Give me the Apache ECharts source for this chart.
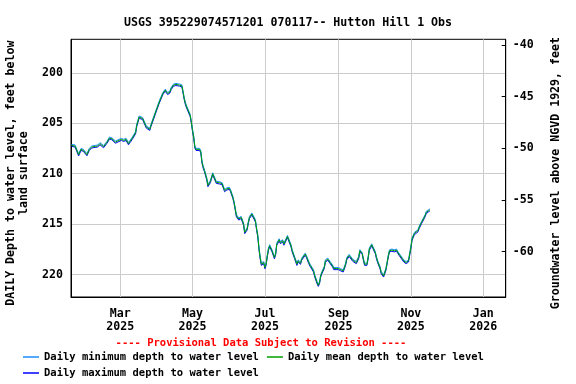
<!DOCTYPE html>
<html>
<head>
<meta charset="utf-8">
<script src="https://cdn.jsdelivr.net/npm/echarts@6/dist/echarts.min.js"></script>
<style>html,body{margin:0;padding:0;background:#fff}#c{width:576px;height:384px}</style>
</head>
<body>
<div id="c"></div>
<script>
const dates = ['2025-01-19','2025-01-22','2025-01-23','2025-01-25','2025-01-27','2025-01-29','2025-01-30','2025-02-01','2025-02-03','2025-02-05',
'2025-02-08','2025-02-10','2025-02-12','2025-02-15','2025-02-18','2025-02-20','2025-02-22','2025-02-25','2025-02-26','2025-02-28',
'2025-03-02','2025-03-04','2025-03-06','2025-03-08','2025-03-09','2025-03-11','2025-03-12','2025-03-14','2025-03-15','2025-03-17',
'2025-03-18','2025-03-20','2025-03-23','2025-03-26','2025-03-27','2025-03-29','2025-04-01','2025-04-03','2025-04-06','2025-04-08',
'2025-04-10','2025-04-12','2025-04-13','2025-04-15','2025-04-16','2025-04-17','2025-04-20','2025-04-22','2025-04-23','2025-04-24',
'2025-04-25','2025-04-26','2025-04-27','2025-04-29','2025-04-30','2025-05-01','2025-05-02','2025-05-03','2025-05-04','2025-05-07',
'2025-05-08','2025-05-09','2025-05-10','2025-05-11','2025-05-13','2025-05-14','2025-05-15','2025-05-16','2025-05-18','2025-05-19',
'2025-05-21','2025-05-22','2025-05-24','2025-05-26','2025-05-27','2025-05-28','2025-05-30','2025-06-01','2025-06-02','2025-06-04',
'2025-06-05','2025-06-06','2025-06-07','2025-06-09','2025-06-11','2025-06-13','2025-06-14','2025-06-16','2025-06-17','2025-06-18',
'2025-06-20','2025-06-21','2025-06-23','2025-06-24','2025-06-25','2025-06-26','2025-06-27','2025-06-28','2025-06-29','2025-06-30',
'2025-07-01','2025-07-02','2025-07-03','2025-07-04','2025-07-05','2025-07-07','2025-07-08','2025-07-09','2025-07-10','2025-07-11',
'2025-07-13','2025-07-14','2025-07-16','2025-07-17','2025-07-19','2025-07-20','2025-07-21','2025-07-23','2025-07-24','2025-07-26',
'2025-07-27','2025-07-28','2025-07-29','2025-07-31','2025-08-01','2025-08-02','2025-08-04','2025-08-05','2025-08-07','2025-08-08',
'2025-08-09','2025-08-11','2025-08-12','2025-08-14','2025-08-15','2025-08-16','2025-08-17','2025-08-18','2025-08-20','2025-08-21',
'2025-08-23','2025-08-24','2025-08-25','2025-08-27','2025-08-28','2025-08-30','2025-08-31','2025-09-01','2025-09-03','2025-09-05',
'2025-09-06','2025-09-07','2025-09-08','2025-09-10','2025-09-11','2025-09-13','2025-09-14','2025-09-16','2025-09-18','2025-09-19',
'2025-09-21','2025-09-22','2025-09-23','2025-09-25','2025-09-26','2025-09-27','2025-09-29','2025-09-30','2025-10-02','2025-10-03',
'2025-10-04','2025-10-06','2025-10-07','2025-10-09','2025-10-10','2025-10-11','2025-10-12','2025-10-13','2025-10-14','2025-10-16',
'2025-10-18','2025-10-20','2025-10-21','2025-10-23','2025-10-24','2025-10-26','2025-10-27','2025-10-28','2025-10-30','2025-10-31',
'2025-11-01','2025-11-02','2025-11-04','2025-11-05','2025-11-07','2025-11-08','2025-11-10','2025-11-11','2025-11-12','2025-11-13',
'2025-11-14','2025-11-16','2025-11-17'];

const meanDepth = [207.19,207.26,207.36,208.12,207.59,207.69,207.86,208.12,207.59,207.36,
207.29,207.26,207.02,207.32,206.87,206.47,206.53,206.87,207.02,206.70,
206.60,206.70,206.60,207.02,207.12,206.53,206.37,205.93,205.20,204.38,
204.28,204.54,205.37,205.60,205.20,204.54,203.54,202.89,202.05,201.72,
202.05,201.89,201.55,201.22,201.39,201.15,201.22,201.29,201.89,202.55,
203.04,203.38,203.54,204.21,204.88,205.70,206.37,207.37,207.59,207.59,
207.86,208.86,209.35,209.68,210.51,211.17,211.17,210.78,210.01,210.18,
210.85,210.91,210.91,211.00,211.17,211.67,211.50,211.44,211.67,212.34,
212.84,213.49,214.16,214.49,214.33,214.99,215.82,215.48,214.83,214.33,
213.99,214.16,214.66,215.48,216.15,217.40,218.31,218.97,219.13,218.81,
219.30,218.97,218.14,217.47,217.14,217.64,217.81,218.31,217.97,216.98,
216.55,216.82,216.65,216.98,216.48,216.22,216.32,217.14,217.64,218.31,
218.47,218.97,218.64,218.87,218.47,218.47,217.97,218.21,218.81,219.06,
219.20,219.63,220.13,220.80,221.06,220.80,220.13,219.80,219.30,218.64,
218.47,218.54,218.81,219.13,219.40,219.40,219.30,219.40,219.53,219.63,
219.46,218.97,218.41,218.10,218.24,218.57,218.64,218.81,218.31,217.64,
217.91,218.47,218.97,218.97,218.31,217.47,217.05,217.31,217.81,218.31,
218.71,219.30,219.80,220.13,219.96,219.46,218.81,218.14,217.64,217.57,
217.64,217.57,217.81,218.14,218.31,218.64,218.74,218.81,218.64,217.97,
217.31,216.48,215.92,215.82,215.65,215.32,214.83,214.66,214.39,214.16,
213.83,213.66,213.59];

const minDepth = [207.10,207.15,207.27,208.02,207.50,207.58,207.77,208.01,207.49,207.26,
207.20,207.16,206.92,207.21,206.78,206.37,206.44,206.76,206.93,206.60,
206.51,206.59,206.50,206.92,207.03,206.42,206.28,205.82,205.08,204.28,
204.18,204.44,205.27,205.50,205.10,204.43,203.43,202.78,201.95,201.62,
201.95,201.79,201.45,201.12,201.29,201.05,201.12,201.19,201.78,202.44,
202.93,203.27,203.44,204.10,204.76,205.58,206.25,207.25,207.49,207.49,
207.75,208.74,209.24,209.57,210.40,211.06,211.07,210.68,209.91,210.08,
210.75,210.81,210.80,210.90,211.07,211.56,211.40,211.34,211.57,212.23,
212.73,213.38,214.05,214.39,214.23,214.88,215.71,215.38,214.73,214.23,
213.89,214.06,214.55,215.37,216.03,217.28,218.19,218.86,219.03,218.71,
219.19,218.87,218.03,217.36,217.04,217.54,217.71,218.20,217.87,216.87,
216.45,216.72,216.55,216.88,216.38,216.12,216.22,217.03,217.53,218.20,
218.37,218.86,218.54,218.77,218.37,218.37,217.87,218.11,218.70,218.96,
219.10,219.52,220.02,220.69,220.96,220.70,220.02,219.70,219.19,218.53,
218.37,218.44,218.71,219.03,219.30,219.29,219.20,219.30,219.43,219.53,
219.36,218.86,218.30,218.00,218.14,218.47,218.54,218.71,218.20,217.53,
217.81,218.36,218.87,218.86,218.20,217.36,216.95,217.21,217.71,218.20,
218.61,219.19,219.69,220.03,219.86,219.35,218.70,218.03,217.54,217.47,
217.54,217.47,217.71,218.04,218.21,218.54,218.64,218.71,218.54,217.86,
217.19,216.36,215.81,215.72,215.55,215.21,214.72,214.56,214.29,214.06,
213.72,213.56,213.49];

const maxDepth = [207.28,207.36,207.47,208.24,207.70,207.78,207.97,208.22,207.70,207.45,
207.39,207.37,207.13,207.43,206.97,206.58,206.63,206.98,207.12,206.81,
206.70,206.80,206.71,207.13,207.22,206.64,206.47,206.05,205.33,204.49,
204.38,204.65,205.48,205.71,205.31,204.66,203.66,203.00,202.16,201.82,
202.16,202.00,201.66,201.33,201.49,201.26,201.32,201.40,202.01,202.67,
203.16,203.49,203.65,204.33,205.00,205.83,206.50,207.50,207.70,207.69,
207.98,208.99,209.47,209.79,210.63,211.29,211.28,210.89,210.12,210.29,
210.96,211.01,211.02,211.11,211.28,211.78,211.61,211.55,211.78,212.46,
212.96,213.61,214.28,214.60,214.44,215.11,215.94,215.59,214.94,214.44,
214.10,214.27,214.78,215.60,216.28,217.53,218.44,219.09,219.24,218.92,
219.42,219.08,218.26,217.59,217.25,217.75,217.92,218.43,218.08,217.10,
216.66,216.93,216.76,217.09,216.59,216.33,216.43,217.26,217.76,218.43,
218.58,219.09,218.75,218.98,218.58,218.57,218.08,218.32,218.93,219.17,
219.31,219.75,220.25,220.92,221.17,220.91,220.25,219.91,219.42,218.76,
218.58,218.65,218.92,219.24,219.51,219.51,219.41,219.51,219.64,219.74,
219.57,219.09,218.53,218.21,218.35,218.68,218.75,218.92,218.43,217.76,
218.02,218.59,219.08,219.08,218.43,217.59,217.16,217.42,217.92,218.43,
218.82,219.42,219.92,220.24,220.07,219.58,218.93,218.26,217.75,217.68,
217.75,217.68,217.92,218.25,218.42,218.75,218.85,218.92,218.75,218.09,
217.44,216.61,216.04,215.93,215.76,215.44,214.95,214.77,214.50,214.27,
213.95,213.77,213.70];

const leftTicks = [200, 205, 210, 215, 220];
const rightTicks = [-60, -55, -50, -45, -40];
const xTickDates = ['2025-03-01','2025-05-01','2025-07-01','2025-09-01','2025-11-01','2026-01-01'];
const monthNames = ['Jan','Feb','Mar','Apr','May','Jun','Jul','Aug','Sep','Oct','Nov','Dec'];

const titleText = 'USGS 395229074571201 070117-- Hutton Hill 1 Obs';
const leftName = 'DAILY Depth to water level, feet below\nland surface';
const rightName = 'Groundwater level above NGVD 1929, feet';
const provisional = '---- Provisional Data Subject to Revision ----';
const sMin = 'Daily minimum depth to water level';
const sMean = 'Daily mean depth to water level';
const sMax = 'Daily maximum depth to water level';

function parseD(s) { const p = s.split('-').map(Number); return new Date(p[0], p[1]-1, p[2]).getTime(); }
const xs = dates.map(parseD);
const xTicks = xTickDates.map(parseD);
const pair = arr => arr.map((v, i) => [xs[i], v]);

const FONT = 'DejaVu Sans Mono';
const chart = echarts.init(document.getElementById('c'), null, {renderer: 'canvas'});
chart.setOption({
  animation: false,
  backgroundColor: '#ffffff',
  title: {
    text: titleText, left: 'center', top: 12,
    textStyle: {fontFamily: FONT, fontSize: 11.6, fontWeight: 'bold', color: '#000'}
  },
  graphic: [{
    type: 'text', x: 261, y: 343.5,
    style: {text: provisional, fill: '#ff0000', font: 'bold 10.5px "DejaVu Sans Mono"', textAlign: 'center', textVerticalAlign: 'middle'}
  }],
  legend: [{
    data: [sMin, sMean], left: 23, top: 351.5, orient: 'horizontal',
    itemWidth: 16, itemHeight: 1.5, itemGap: 8, icon: 'rect', padding: 0,
    textStyle: {fontFamily: FONT, fontSize: 10.5, fontWeight: 'bold', color: '#000'}
  }, {
    data: [sMax], left: 23, top: 367.5, orient: 'horizontal',
    itemWidth: 16, itemHeight: 1.5, itemGap: 8, icon: 'rect', padding: 0,
    textStyle: {fontFamily: FONT, fontSize: 10.5, fontWeight: 'bold', color: '#000'}
  }],
  grid: {left: 71, right: 70.3, top: 39.3, bottom: 87, show: true, borderColor: '#000', borderWidth: 1, containLabel: false, outerBoundsMode: 'none'},
  xAxis: {
    type: 'value',
    min: new Date(2025, 0, 18, 14).getTime(),
    max: new Date(2026, 0, 19, 22).getTime(),
    axisLine: {show: true, lineStyle: {color: '#000'}},
    axisTick: {show: false, customValues: xTicks},
    splitLine: {show: true, lineStyle: {color: '#cccccc', width: 1}},
    axisLabel: {
      customValues: xTicks, margin: 10,
      fontFamily: FONT, fontSize: 11.6, fontWeight: 'bold', color: '#000', lineHeight: 13,
      formatter: v => { const d = new Date(v); return monthNames[d.getMonth()] + '\n' + d.getFullYear(); }
    }
  },
  yAxis: [{
    type: 'value', inverse: true, min: 196.68, max: 222.22, position: 'left',
    name: leftName, nameLocation: 'middle', nameRotate: 90, nameGap: 41,
    nameTextStyle: {fontFamily: FONT, fontSize: 11.6, fontWeight: 'bold', color: '#000', lineHeight: 13, align: 'center', padding: [0, 10, 0, 0]},
    axisLine: {show: true, lineStyle: {color: '#000'}},
    axisTick: {show: false, customValues: leftTicks},
    splitLine: {show: true, lineStyle: {color: '#cccccc', width: 1}},
    axisLabel: {customValues: leftTicks, margin: 8, fontFamily: FONT, fontSize: 11.6, fontWeight: 'bold', color: '#000'}
  }, {
    type: 'value', min: -64.38, max: -39.45, position: 'right',
    name: rightName, nameLocation: 'middle', nameRotate: 90, nameGap: 44,
    nameTextStyle: {fontFamily: FONT, fontSize: 11.6, fontWeight: 'bold', color: '#000', align: 'center', padding: [0, 10, 0, 0]},
    axisLine: {show: true, lineStyle: {color: '#000'}},
    axisTick: {show: true, inside: true, length: 4, customValues: rightTicks, lineStyle: {color: '#000'}},
    splitLine: {show: false},
    axisLabel: {customValues: rightTicks, margin: 7, fontFamily: FONT, fontSize: 11.6, fontWeight: 'bold', color: '#000'}
  }],
  series: [
    {name: sMax, type: 'line', yAxisIndex: 0, data: pair(maxDepth), showSymbol: false, symbol: 'none', lineStyle: {color: '#0000ff', width: 1}, itemStyle: {color: '#0000ff'}, z: 2},
    {name: sMin, type: 'line', yAxisIndex: 0, data: pair(minDepth), showSymbol: false, symbol: 'none', lineStyle: {color: '#1a8cff', width: 1}, itemStyle: {color: '#1a8cff'}, z: 3},
    {name: sMean, type: 'line', yAxisIndex: 0, data: pair(meanDepth), showSymbol: false, symbol: 'none', lineStyle: {color: '#00a000', width: 1}, itemStyle: {color: '#00a000'}, z: 4}
  ]
});
</script>
</body>
</html>
